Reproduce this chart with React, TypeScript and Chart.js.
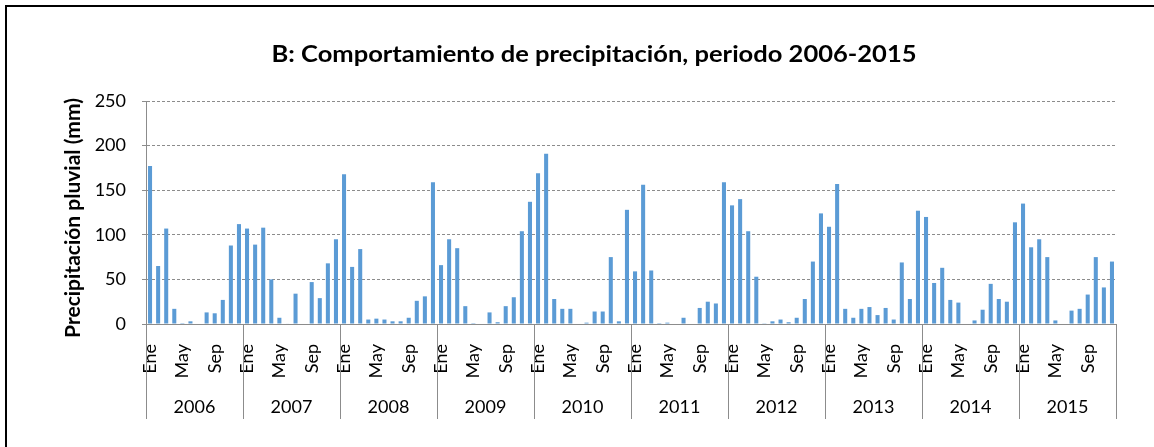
import React, { useEffect, useRef } from 'react';
import { Chart, registerables } from 'chart.js';

Chart.register(...registerables);

const TITLE = 'B: Comportamiento de precipitación, periodo 2006-2015';
const Y_TITLE = 'Precipitación pluvial (mm)';
const YEARS = ['2006', '2007', '2008', '2009', '2010', '2011', '2012', '2013', '2014', '2015'];
const MONTHS = ['Ene', 'Feb', 'Mar', 'Abr', 'May', 'Jun', 'Jul', 'Ago', 'Sep', 'Oct', 'Nov', 'Dic'];
const MONTH_TICKS = ['Ene', '', '', '', 'May', '', '', '', 'Sep', '', '', ''];
const Y_MIN = 0;
const Y_MAX = 250;
const Y_STEP = 50;

const P2006 = [177, 65, 107, 17, 1, 3, 0, 13, 12, 27, 88, 112];
const P2007 = [107, 89, 108, 50, 7, 0.5, 34, 0, 47, 29, 68, 95];
const P2008 = [168, 64, 84, 5, 6, 5, 3, 3, 7, 26, 31, 159];
const P2009 = [66, 95, 85, 20, 1, 0, 13, 2, 20, 30, 104, 137];
const P2010 = [169, 191, 28, 17, 17, 0, 1.5, 14, 14, 75, 3, 128];
const P2011 = [59, 156, 60, 1, 1.5, 0, 7, 0, 18, 25, 23, 159];
const P2012 = [133, 140, 104, 53, 0.3, 3, 5, 2, 7, 28, 70, 124];
const P2013 = [109, 157, 17, 7, 17, 19, 10, 18, 5, 69, 28, 127];
const P2014 = [120, 46, 63, 27, 24, 0, 4, 16, 45, 28, 25, 114];
const P2015 = [135, 86, 95, 75, 4, 0, 15, 17, 33, 75, 41, 70];

const BAR_COLOR = '#5B9BD5';
const GRID_COLOR = '#8c8c8c';
const FONT = 'Lato';

export default function App() {
  const ref = useRef<HTMLCanvasElement>(null);

  useEffect(() => {
    if (!ref.current) return;
    const labels = YEARS.flatMap((y) => MONTHS.map((m) => `${m} ${y}`));
    const values = [P2006, P2007, P2008, P2009, P2010, P2011, P2012, P2013, P2014, P2015].flat();

    const frame = {
      id: 'frame',
      beforeDraw(chart: any) {
        const ctx = chart.ctx;
        ctx.save();
        ctx.fillStyle = '#ffffff';
        ctx.fillRect(0, 0, chart.width, chart.height);
        ctx.fillStyle = '#000000';
        ctx.fillRect(5, 5, chart.width - 5, 2);
        ctx.fillRect(5, 5, 2, chart.height - 5);
        ctx.restore();
      },
    };

    const texts = {
      id: 'texts',
      afterDraw(chart: any) {
        const ctx = chart.ctx;
        const xs = chart.scales.x;
        const area = chart.chartArea;
        ctx.save();
        ctx.fillStyle = '#000000';
        ctx.textAlign = 'center';
        ctx.textBaseline = 'middle';

        ctx.save();
        ctx.font = `bold 22px ${FONT}`;
        const tw = ctx.measureText(TITLE).width;
        ctx.translate(594, 55);
        ctx.scale(645 / tw, 1);
        ctx.fillText(TITLE, 0, 0);
        ctx.restore();

        ctx.save();
        ctx.translate(73, 218);
        ctx.rotate(-Math.PI / 2);
        ctx.font = `bold 21px ${FONT}`;
        ctx.fillText(Y_TITLE, 0, 0);
        ctx.restore();

        ctx.strokeStyle = GRID_COLOR;
        ctx.lineWidth = 1;
        const half = (xs.getPixelForValue(1) - xs.getPixelForValue(0)) / 2;
        for (let k = 0; k <= YEARS.length; k++) {
          const px =
            k === YEARS.length
              ? xs.getPixelForValue(k * 12 - 1) + half
              : xs.getPixelForValue(k * 12) - half;
          const x = Math.round(px) + 0.5;
          ctx.beginPath();
          ctx.moveTo(x, area.bottom);
          ctx.lineTo(x, xs.bottom);
          ctx.stroke();
        }
        ctx.font = `18px ${FONT}`;
        YEARS.forEach((y, k) => {
          const c = (xs.getPixelForValue(k * 12) + xs.getPixelForValue(k * 12 + 11)) / 2;
          ctx.fillText(y, c, xs.bottom - 12);
        });
        ctx.restore();
      },
    };

    const chart = new Chart(ref.current, {
      type: 'bar',
      data: {
        labels,
        datasets: [
          {
            data: values,
            backgroundColor: BAR_COLOR,
            borderWidth: 0,
            barPercentage: 0.5,
            categoryPercentage: 1,
          },
        ],
      },
      plugins: [frame, texts],
      options: {
        responsive: false,
        animation: false,
        layout: { padding: { left: 0, right: 38, top: 101, bottom: 28 } },
        plugins: {
          legend: { display: false },
          title: { display: false },
          tooltip: { enabled: false },
        },
        scales: {
          x: {
            grid: { display: false, drawTicks: false },
            border: { display: true, color: GRID_COLOR, width: 1 },
            ticks: {
              autoSkip: false,
              maxRotation: 90,
              minRotation: 90,
              padding: 20,
              color: '#000000',
              font: { family: FONT, size: 18 },
              callback: (_v: any, i: number) => MONTH_TICKS[i % 12],
            },
            afterFit: (s: any) => {
              s.height = 95;
            },
          },
          y: {
            min: Y_MIN,
            max: Y_MAX,
            grid: {
              color: GRID_COLOR,
              lineWidth: 1,
              drawTicks: true,
              tickLength: 4,
              tickColor: GRID_COLOR,
              tickBorderDash: [],
            },
            border: { display: true, color: GRID_COLOR, width: 1, dash: [3, 2] },
            ticks: {
              stepSize: Y_STEP,
              padding: 16,
              color: '#000000',
              font: { family: FONT, size: 18 },
            },
            afterFit: (s: any) => {
              s.width = 146;
            },
          },
        },
      },
    });
    return () => chart.destroy();
  }, []);

  return (
    <div style={{ position: 'absolute', left: 0, top: 0, width: 1154, height: 447 }}>
      <canvas ref={ref} width={1154} height={447} style={{ display: 'block' }} />
    </div>
  );
}
